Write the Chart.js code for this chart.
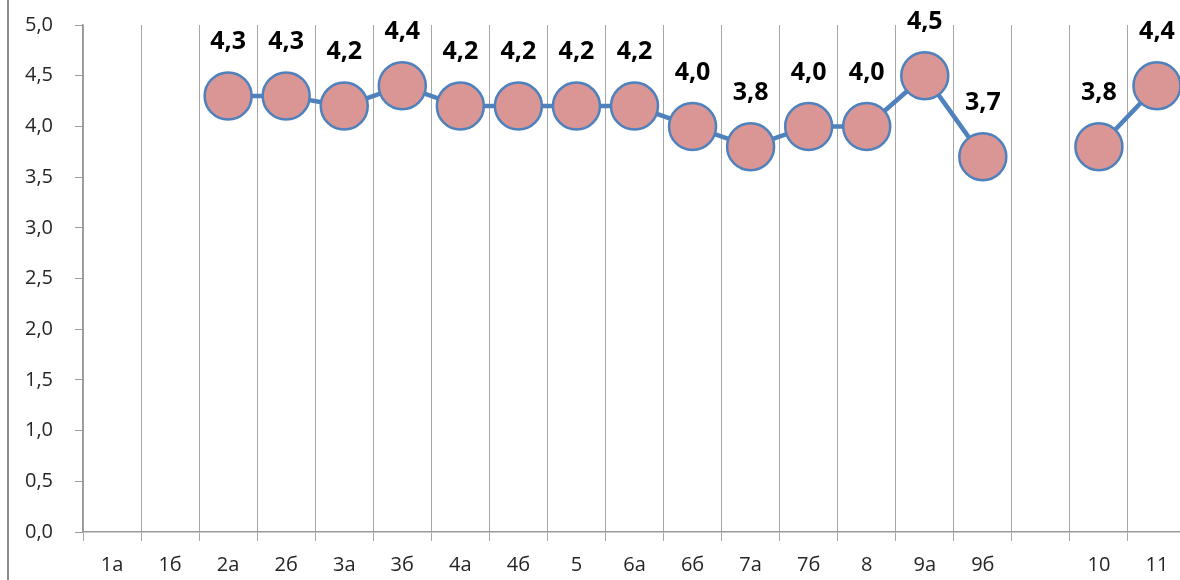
<!DOCTYPE html>
<html lang="ru">
<head>
    <meta charset="UTF-8">
    <title>Средний балл</title>
    <script src="https://cdn.jsdelivr.net/npm/chart.js"></script>
    <style>
        html, body {
            margin: 0;
            padding: 0;
            background: #ffffff;
            overflow: hidden;
        }

        #frame {
            position: absolute;
            left: 7px;
            top: 0;
            width: 2px;
            height: 580px;
            background: #8c8c8c;
        }

        #scoreChart {
            position: absolute;
            left: 0;
            top: 0;
        }
    </style>
</head>
<body>
    <canvas id="scoreChart" width="1188" height="580"></canvas>
    <div id="frame"></div>

    <script>
        const classes = ['1а', '1б', '2а', '2б', '3а', '3б', '4а', '4б', '5', '6а', '6б',
                         '7а', '7б', '8', '9а', '9б', '', '10', '11'];
        const scores = [null, null, 4.3, 4.3, 4.2, 4.4, 4.2, 4.2, 4.2, 4.2, 4.0,
                        3.8, 4.0, 4.0, 4.5, 3.7, null, 3.8, 4.4];
        const yMin = 0;
        const yMax = 5;
        const yStep = 0.5;

        const fontFamily = "'Open Sans', 'Noto Sans', 'DejaVu Sans', sans-serif";
        const comma = v => v.toFixed(1).replace('.', ',');

        // value labels above each marker
        const valueLabels = {
            id: 'valueLabels',
            afterDatasetsDraw(chart) {
                const ctx = chart.ctx;
                const meta = chart.getDatasetMeta(0);
                ctx.save();
                ctx.font = "bold 25px " + fontFamily;
                ctx.fillStyle = '#000000';
                ctx.textAlign = 'center';
                ctx.textBaseline = 'middle';
                meta.data.forEach((pt, i) => {
                    const v = scores[i];
                    if (v === null) return;
                    ctx.fillText(comma(v), pt.x, pt.y - 54);
                });
                ctx.restore();
            }
        };

        const ctx = document.getElementById('scoreChart').getContext('2d');
        new Chart(ctx, {
            type: 'line',
            data: {
                labels: classes,
                datasets: [{
                    data: scores,
                    borderColor: '#4f81bd',
                    borderWidth: 4.5,
                    backgroundColor: '#d99694',
                    pointBackgroundColor: '#d99694',
                    pointBorderColor: '#4f81bd',
                    pointBorderWidth: 2.5,
                    pointRadius: 23.5,
                    pointHoverRadius: 23.5,
                    spanGaps: false,
                    fill: false,
                    tension: 0,
                    clip: false
                }]
            },
            options: {
                responsive: false,
                animation: false,
                events: [],
                layout: {
                    autoPadding: false,
                    padding: { left: 25, right: 2, top: 25, bottom: 0 }
                },
                plugins: {
                    legend: { display: false },
                    tooltip: { enabled: false }
                },
                scales: {
                    x: {
                        offset: true,
                        grid: {
                            offset: true,
                            color: '#a6a6a6',
                            lineWidth: 1,
                            tickLength: 9,
                            drawTicks: true
                        },
                        border: { color: '#9a9a9a', width: 1.5 },
                        ticks: {
                            color: '#262626',
                            padding: 12,
                            autoSkip: false,
                            maxRotation: 0,
                            font: { family: fontFamily, size: 20 }
                        },
                        afterFit(axis) { axis.height = 48; }
                    },
                    y: {
                        min: yMin,
                        max: yMax,
                        grid: {
                            drawOnChartArea: false,
                            color: '#9a9a9a',
                            tickLength: 8
                        },
                        border: { color: '#9a9a9a', width: 1.5 },
                        ticks: {
                            stepSize: yStep,
                            color: '#262626',
                            padding: 0,
                            crossAlign: 'far',
                            font: { family: fontFamily, size: 20 },
                            callback: v => comma(v)
                        },
                        afterFit(axis) { axis.width = 58; }
                    }
                }
            },
            plugins: [valueLabels]
        });
    </script>
</body>
</html>
